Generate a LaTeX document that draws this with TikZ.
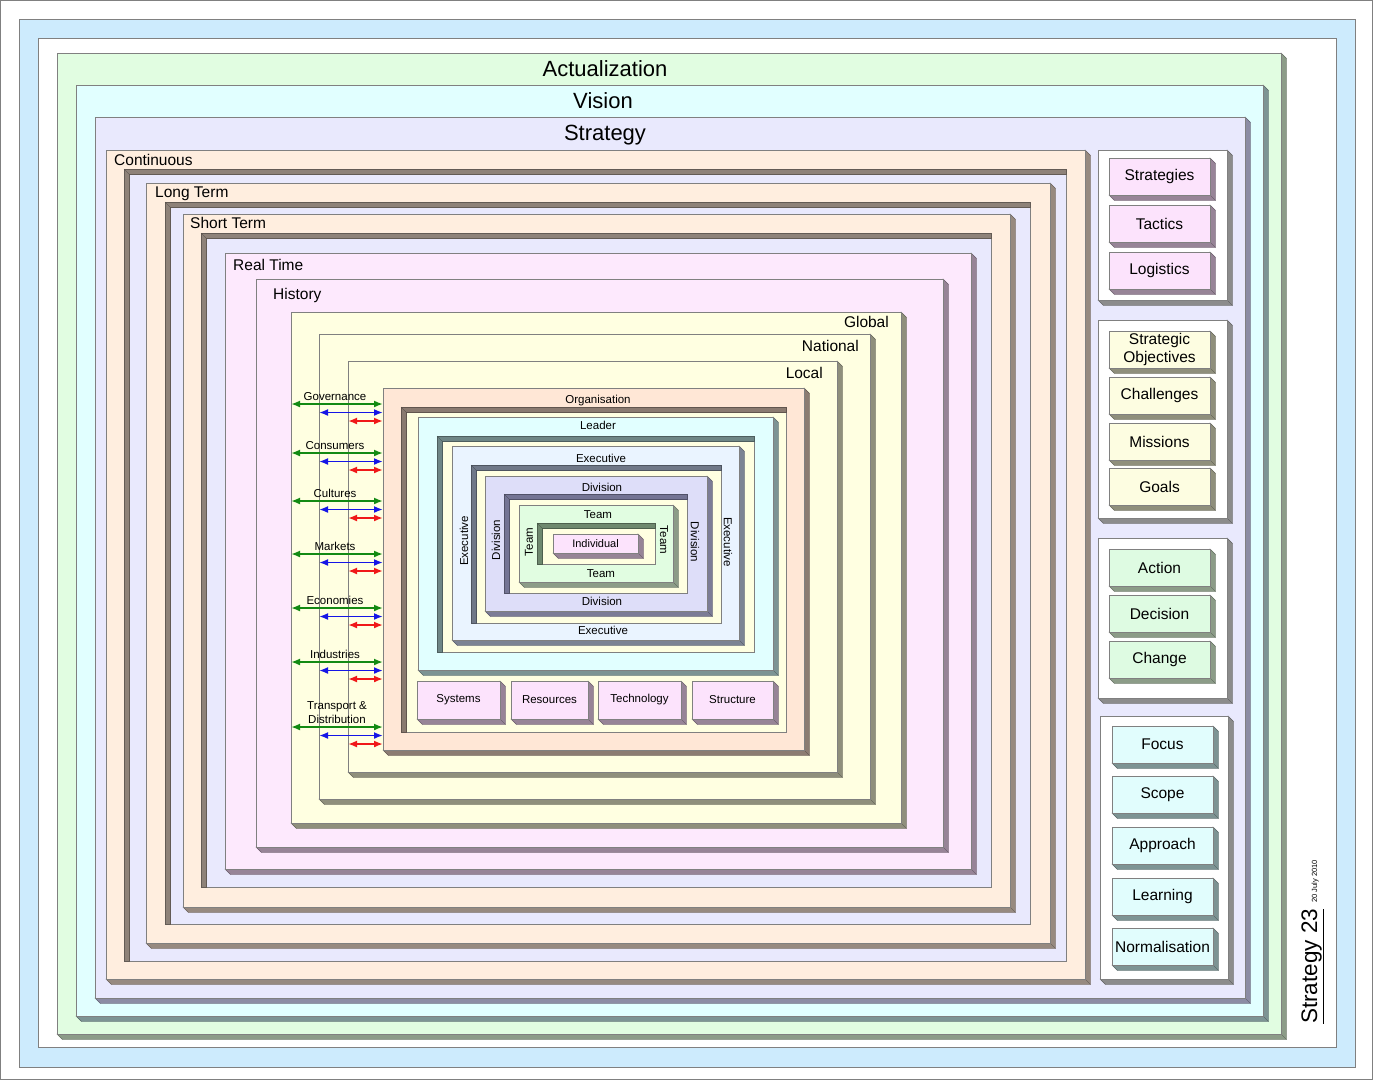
\documentclass[tikz,border=0pt]{standalone}
\usepackage{fontspec}
\setmainfont{Liberation Sans}
\usetikzlibrary{arrows.meta, fit}

\begin{document}
\begin{tikzpicture}[
    x=1pt, y=-1pt,
    every node/.style={font=\fontsize{15.5}{18}\selectfont, inner sep=0pt},
    face/.style={draw=edge, line width=0.5pt, inner sep=0pt, outer sep=0pt},
    titlefont/.style={font=\fontsize{22}{26}\selectfont},
    smallfont/.style={font=\fontsize{11.5}{13}\selectfont},
    link/.style={line width=1.9pt, {Latex[length=9pt,width=7pt]}-{Latex[length=9pt,width=7pt]}},
]

% ---------------------------------------------------------------- colours
\definecolor{edge}{HTML}{808080}
\definecolor{band}{HTML}{CDEBFD}
\definecolor{fgreen}{HTML}{E1FDE1}   % actualization, team
\definecolor{fcyan}{HTML}{E1FFFF}    % vision, leader
\definecolor{flav}{HTML}{E9E9FD}     % strategy
\definecolor{fpeach}{HTML}{FFEEDF}   % time frames
\definecolor{fpink}{HTML}{FDE9FD}    % real time, history
\definecolor{fyellow}{HTML}{FFFFE1}  % global, national, local
\definecolor{forg}{HTML}{FFE7D6}
\definecolor{fexec}{HTML}{EAF4FF}
\definecolor{fdiv}{HTML}{DEDEF9}
\definecolor{fbox}{HTML}{FCE3FC}
\definecolor{fobj}{HTML}{FDFDE1}
\definecolor{fact}{HTML}{DEFBE2}
\definecolor{ffocus}{HTML}{E1FDFD}
\definecolor{sgreen}{HTML}{8C9C88}
\definecolor{scyan}{HTML}{7D9494}
\definecolor{slav}{HTML}{8C8CA4}
\definecolor{speach}{HTML}{978A80}
\definecolor{spink}{HTML}{978497}
\definecolor{syellow}{HTML}{8F8F7C}
\definecolor{sorg}{HTML}{8C7C72}
\definecolor{sgray}{HTML}{8C8C8C}
\definecolor{sdiv}{HTML}{7C7C96}
\definecolor{sexec}{HTML}{7C8494}
\definecolor{dpeach}{HTML}{8E8279}
\definecolor{dorg}{HTML}{8A7A70}
\definecolor{dleader}{HTML}{6E8686}
\definecolor{dexec}{HTML}{707888}
\definecolor{ddiv}{HTML}{747494}
\definecolor{dteam}{HTML}{6E886E}
\definecolor{cgreen}{HTML}{138A13}
\definecolor{cblue}{HTML}{1515E6}
\definecolor{cred}{HTML}{F01818}

% ================================================================
% every box is a raised slab: face + side on the right and bottom
%   \slab{name}{x1}{y1}{x2}{y2}{face}{side}
% a sunk panel has its dark side on the top and left
%   \sunk{name}{x1}{y1}{x2}{y2}{face}{side}
% coordinates are pixels, y runs down
% ================================================================

\def\slabdepth{5.5}

\newcommand{\slab}[7]{%
    \filldraw[fill=#7, draw=#7!70!black, line width=0.4pt]
        (#4,#3) -- (#4+\slabdepth,#3+\slabdepth) -- (#4+\slabdepth,#5+\slabdepth)
        -- (#2+\slabdepth,#5+\slabdepth) -- (#2,#5) -- cycle;
    \draw[#7!55!black, line width=0.3pt] (#4,#5) -- (#4+\slabdepth,#5+\slabdepth);
    \node[face, fill=#6, fit={(#2,#3) (#4,#5)}] (#1) {};
}
\newcommand{\sunk}[7]{%
    \node[face, fill=#6, fit={(#2,#3) (#4,#5)}] (#1) {};
    \filldraw[fill=#7, draw=#7!70!black, line width=0.3pt]
        (#2,#5) -- (#2,#3) -- (#4,#3) -- (#4,#3+\slabdepth)
        -- (#2+\slabdepth,#3+\slabdepth) -- (#2+\slabdepth,#5) -- cycle;
    \draw[#7!55!black, line width=0.3pt] (#2,#3) -- (#2+\slabdepth,#3+\slabdepth);
}

\useasboundingbox (0,0) rectangle (1373,1080);

% frame
\draw[edge, line width=1pt] (0.5,0.5) rectangle (1372.5,1079.5);
\filldraw[fill=band, draw=edge] (19,19) rectangle (1355,1067);
\filldraw[fill=white, draw=edge] (38,38) rectangle (1336,1047);

% the big nest
\slab{actual}{57}{53}{1281}{1034}{fgreen}{sgreen}
\slab{vision}{76}{85}{1263}{1016}{fcyan}{scyan}
\slab{strategy}{95}{117}{1245}{998}{flav}{slav}
\slab{continuous}{106}{150}{1085}{979}{fpeach}{speach}
\sunk{continuous-in}{124}{169}{1066}{961}{flav}{dpeach}
\slab{longterm}{146}{183}{1050}{943}{fpeach}{speach}
\sunk{longterm-in}{165}{202}{1030}{924}{flav}{dpeach}
\slab{shortterm}{183}{214}{1010}{907}{fpeach}{speach}
\sunk{shortterm-in}{201}{233}{991}{887}{flav}{dpeach}
\slab{realtime}{225}{253}{971}{869}{fpink}{spink}
\slab{history}{256}{279}{943}{847}{fpink}{spink}
\slab{global}{291}{312}{901}{823}{fyellow}{syellow}
\slab{national}{319}{334}{870}{799}{fyellow}{syellow}
\slab{local}{348}{361}{837}{772}{fyellow}{syellow}

\node[titlefont, anchor=base] (actual-t) at (605,76) {Actualization};
\node[titlefont, anchor=base] (vision-t) at (603,108) {Vision};
\node[titlefont, anchor=base] (strategy-t) at (605,140) {Strategy};
\node[anchor=base west] (continuous-t) at (114,165) {Continuous};
\node[anchor=base west] (longterm-t) at (155,197) {Long Term};
\node[anchor=base west] (shortterm-t) at (190,228) {Short Term};
\node[anchor=base west] (realtime-t) at (233,270) {Real Time};
\node[anchor=base west] (history-t) at (273,299) {History};
\node[anchor=base east] (global-t) at (889,327) {Global};
\node[anchor=base east] (national-t) at (859,351) {National};
\node[anchor=base east] (local-t) at (823,378) {Local};

% organisation
\slab{org}{383}{388}{804}{750}{forg}{sorg}
\sunk{org-in}{401}{407}{786}{732}{fyellow}{dorg}
\slab{leader}{418}{417}{773}{670}{fcyan}{scyan}
\sunk{leader-in}{437}{436}{754}{652}{fyellow}{dleader}
\slab{exec}{452}{446}{739}{640}{fexec}{sexec}
\sunk{exec-in}{471}{465}{721}{623}{fyellow}{dexec}
\slab{div}{485}{476}{707}{611}{fdiv}{sdiv}
\sunk{div-in}{504}{494}{687}{593}{fyellow}{ddiv}
\slab{team}{519}{505}{673}{582}{fgreen}{sgreen}
\sunk{team-in}{537}{523}{655}{564}{fyellow}{dteam}
\slab{indiv}{553}{534}{638}{553}{fbox}{spink}

\node[smallfont, anchor=base] (org-t) at (598,403) {Organisation};
\node[smallfont, anchor=base] (leader-t) at (598,429) {Leader};
\node[smallfont, anchor=base] (exec-t) at (601,462) {Executive};
\node[smallfont, anchor=base] (exec-b) at (603,634) {Executive};
\node[smallfont, rotate=90] (exec-l) at (464,541) {Executive};
\node[smallfont, rotate=-90] (exec-r) at (728,542) {Executive};
\node[smallfont, anchor=base] (div-t) at (602,491) {Division};
\node[smallfont, anchor=base] (div-b) at (602,605) {Division};
\node[smallfont, rotate=90] (div-l) at (496,540) {Division};
\node[smallfont, rotate=-90] (div-r) at (695,542) {Division};
\node[smallfont, anchor=base] (team-t) at (598,518) {Team};
\node[smallfont, anchor=base] (team-b) at (601,577) {Team};
\node[smallfont, rotate=90] (team-l) at (529,542) {Team};
\node[smallfont, rotate=-90] (team-r) at (664,540) {Team};
\node[smallfont, font=\fontsize{11}{13}\selectfont] (indiv-t) at (indiv) {Individual};

\foreach \n/\a/\b/\t in {systems/417/500/Systems, resources/511/588/Resources,
        technology/598/681/Technology, structure/692/773/Structure} {
    \slab{\n}{\a}{681}{\b}{719}{fbox}{spink}
    \node[smallfont] (\n-t) at (\n) {\t};
}

% the surroundings that act on the organisation
\foreach \lab/\y in {Governance/404, Consumers/453, Cultures/501,
        Markets/554, Economies/608, Industries/662, {}/727} {
    \node[smallfont, anchor=base] (lab-\y) at (335,\y-4) {\lab};
    \coordinate (g-\y) at (0,\y);
    \coordinate (b-\y) at (0,\y+8.5);
    \coordinate (r-\y) at (0,\y+17);
    \draw[link, cgreen] (global.west |- g-\y) -- (org.west |- g-\y);
    \draw[link, cblue] (national.west |- b-\y) -- (org.west |- b-\y);
    \draw[link, cred] (local.west |- r-\y) -- (org.west |- r-\y);
}
\node[smallfont, align=center, font=\fontsize{11.5}{14}\selectfont, anchor=south]
    (lab-transport) at (337,724) {Transport \&\\Distribution};

% right hand column
\slab{panel-a}{1098}{150}{1227}{300}{white}{sgray}
\foreach \n/\y/\t in {strategies/158/Strategies, tactics/205/Tactics, logistics/252/Logistics} {
    \slab{\n}{1109}{\y}{1210}{\y+37}{fbox}{spink}
    \node (\n-t) at (\n) {\t};
}

\slab{panel-b}{1098}{320}{1227}{518}{white}{sgray}
\foreach \n/\y/\t in {objectives/331/{Strategic\\Objectives}, challenges/377/Challenges,
        missions/423/Missions, goals/468/Goals} {
    \slab{\n}{1109}{\y}{1210}{\y+37}{fobj}{syellow}
    \node[align=center] (\n-t) at (\n) {\t};
}

\slab{panel-c}{1098}{538}{1227}{698}{white}{sgray}
\foreach \n/\y/\t in {action/549/Action, decision/595/Decision, change/641/Change} {
    \slab{\n}{1109}{\y}{1210}{\y+37}{fact}{sgreen}
    \node (\n-t) at (\n) {\t};
}

\slab{panel-d}{1100}{716}{1228}{979}{white}{sgray}
\foreach \n/\y/\t in {focus/726/Focus, scope/776/Scope, approach/827/Approach,
        learning/878/Learning, normal/928/Normalisation} {
    \slab{\n}{1112}{\y}{1213}{\y+37}{ffocus}{scyan}
    \node (\n-t) at (\n) {\t};
}

% title and date
\node[rotate=90, anchor=base west, font=\fontsize{22.5}{26}\selectfont]
    (title) at (1317,1024) {\underline{Strategy 23}};
\node[rotate=90, anchor=base west, font=\fontsize{7.5}{9}\selectfont]
    (date) at (1317,903) {20 July 2010};

\end{tikzpicture}
\end{document}
